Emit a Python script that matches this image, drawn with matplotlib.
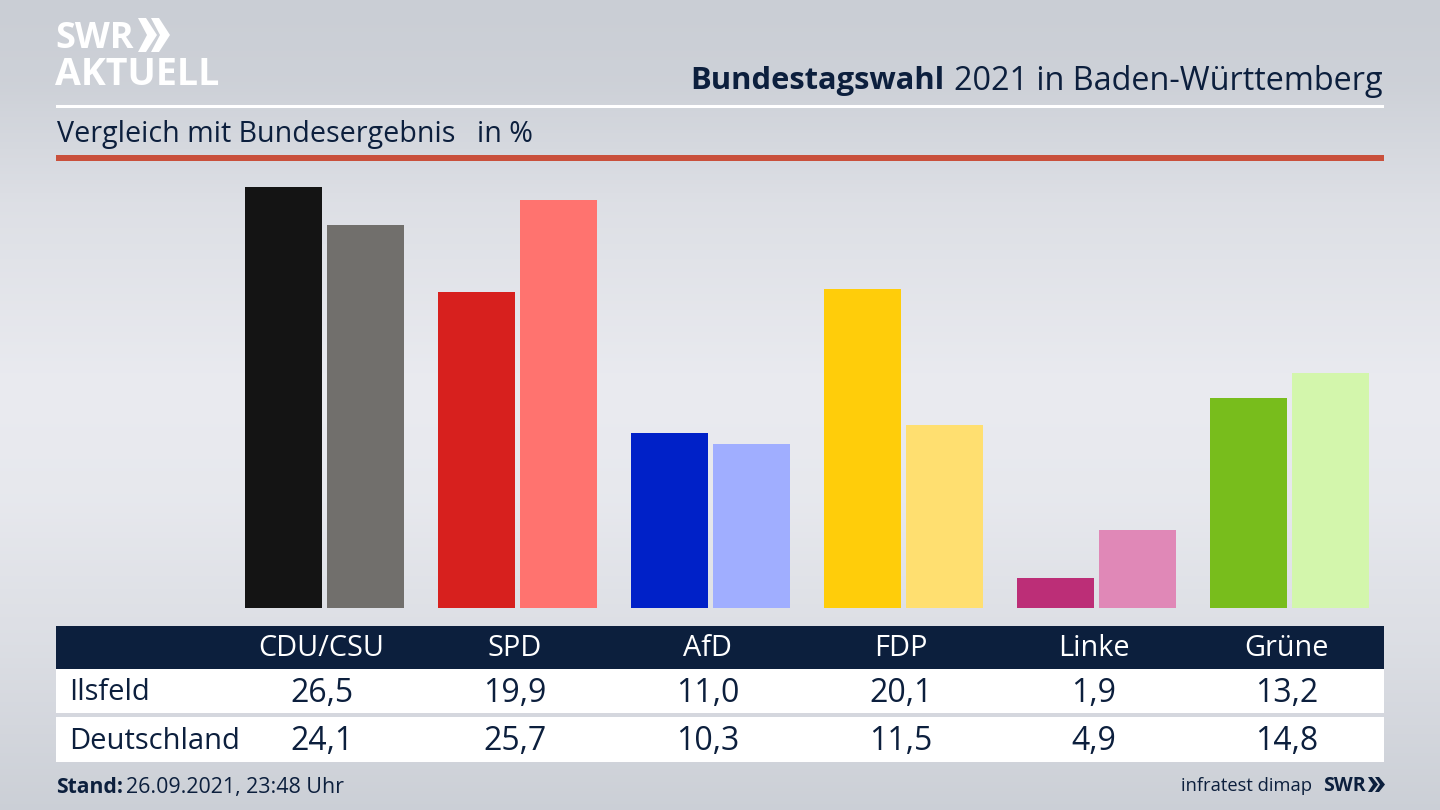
import numpy as np
import matplotlib
matplotlib.use("Agg")
import matplotlib.pyplot as plt
from matplotlib.patches import Rectangle, Polygon

parties = ["CDU/CSU", "SPD", "AfD", "FDP", "Linke", "Grüne"]
ilsfeld = [26.5, 19.9, 11.0, 20.1, 1.9, 13.2]
deutschland = [24.1, 25.7, 10.3, 11.5, 4.9, 14.8]
colors_local = ["#141414", "#d7201e", "#0021c8", "#ffcd0a", "#bc2e77", "#78bd1c"]
colors_national = ["#716f6c", "#ff736f", "#a0aeff", "#ffdf70", "#e088b7", "#d3f6ac"]
row_names = ["Ilsfeld", "Deutschland"]

NAVY = "#0c1f3d"
FONT = "Open Sans"
plt.rcParams["font.family"] = [FONT, "DejaVu Sans"]
W, H = 1440, 810

fig = plt.figure(figsize=(14.4, 8.1), dpi=100)

# background gradient, page-coordinate overlay
bg = fig.add_axes([0, 0, 1, 1], zorder=0)
bg.set_xlim(0, W); bg.set_ylim(H, 0); bg.axis("off")
yy = np.linspace(0, 1, 256)[:, None]
stops_y = [0, 0.1, 0.25, 0.48, 0.62, 0.8, 1]
stops_v = [0.0, 0.1, 0.6, 1.0, 0.9, 0.55, 0.05]
t = np.interp(yy, stops_y, stops_v)
top = np.array([0xca, 0xce, 0xd5]) / 255
mid = np.array([0xea, 0xeb, 0xf0]) / 255
grad = top[None, None, :] * (1 - t[:, :, None]) + mid[None, None, :] * t[:, :, None]
bg.imshow(grad, extent=(0, W, H, 0), aspect="auto", zorder=0)
bg.set_xlim(0, W); bg.set_ylim(H, 0)

# rules
bg.add_patch(Rectangle((56, 104.5), 1328, 3, color="white", lw=0, zorder=1))
bg.add_patch(Rectangle((56, 155), 1328, 5.5, color="#c9503c", lw=0, zorder=1))

# table bands
bg.add_patch(Rectangle((56, 626), 1328, 42.5, color=NAVY, lw=0, zorder=1))
bg.add_patch(Rectangle((56, 668.5), 1328, 44.5, color="white", lw=0, zorder=1))
bg.add_patch(Rectangle((56, 717), 1328, 45, color="white", lw=0, zorder=1))

# heading
bg.text(1383, 81, "2021 in Baden-Württemberg", ha="right", va="center", fontsize=23.3, color=NAVY, zorder=3)
bg.text(944, 81, "Bundestagswahl", ha="right", va="center", fontsize=22.2, fontweight="bold", color=NAVY, zorder=3)
bg.text(57, 142, "Vergleich mit Bundesergebnis", ha="left", va="baseline", fontsize=20.65, color=NAVY, zorder=3)
bg.text(477, 142, "in %", ha="left", va="baseline", fontsize=20.65, color=NAVY, zorder=3)

# logo
bg.text(55, 39, "SWR", ha="left", va="center", fontsize=26, fontweight="bold", color="white", zorder=3)
bg.text(55, 75, "AKTUELL", ha="left", va="center", fontsize=27, fontweight="bold", color="white", zorder=3)
for dx in (0, 13):
    bg.add_patch(Polygon([(138 + dx, 18), (146 + dx, 18), (157 + dx, 35), (146 + dx, 52), (138 + dx, 52), (147 + dx, 35)],
                         closed=True, color="white", lw=0, zorder=3))

# bars, on their own axes: 0 at y=608, one group per 193 px
ax = fig.add_axes([0, (H - 608) / H, 1, 448 / H], zorder=1)
ax.patch.set_alpha(0)
ax.set_xlim(-324.5 / 193, (W - 324.5) / 193)
ax.set_ylim(0, 448 / 15.89)
ax.axis("off")
x = np.arange(len(parties))
bw = 77 / 193
off = 41 / 193
ax.bar(x - off, ilsfeld, width=bw, color=colors_local, lw=0)
ax.bar(x + off, deutschland, width=bw, color=colors_national, lw=0)

# table text
tb = fig.add_axes([0, 0, 1, 1], zorder=2)
tb.patch.set_alpha(0); tb.axis("off")
tb.set_xlim(-324.5 / 193, (W - 324.5) / 193)
tb.set_ylim(H, 0)
fmt = lambda v: f"{v:.1f}".replace(".", ",")
for i, p in enumerate(parties):
    tb.text(i - 0.015, 656.5, p, ha="center", va="baseline", fontsize=20.8, color="white")
    tb.text(i - 0.015, 701.5, fmt(ilsfeld[i]), ha="center", va="baseline", fontsize=23, color=NAVY)
    tb.text(i - 0.015, 750.5, fmt(deutschland[i]), ha="center", va="baseline", fontsize=23, color=NAVY)

bg.text(69, 700, row_names[0], ha="left", va="baseline", fontsize=21, color=NAVY, zorder=3)
bg.text(69, 749, row_names[1], ha="left", va="baseline", fontsize=21, color=NAVY, zorder=3)

# footer
bg.text(56, 793, "Stand:", ha="left", va="baseline", fontsize=15.2, fontweight="bold", color=NAVY, zorder=3)
bg.text(126, 793, "26.09.2021, 23:48 Uhr", ha="left", va="baseline", fontsize=15.4, color=NAVY, zorder=3)
bg.text(1312, 791, "infratest dimap", ha="right", va="baseline", fontsize=13.2, color=NAVY, zorder=3)
bg.text(1323, 791, "SWR", ha="left", va="baseline", fontsize=14, fontweight="bold", color=NAVY, zorder=3)
for dx in (0, 7):
    bg.add_patch(Polygon([(1368 + dx, 777), (1372 + dx, 777), (1378 + dx, 784.5), (1372 + dx, 792), (1368 + dx, 792), (1373 + dx, 784.5)],
                         closed=True, color=NAVY, lw=0, zorder=3))

fig.savefig("out.png", dpi=100)
